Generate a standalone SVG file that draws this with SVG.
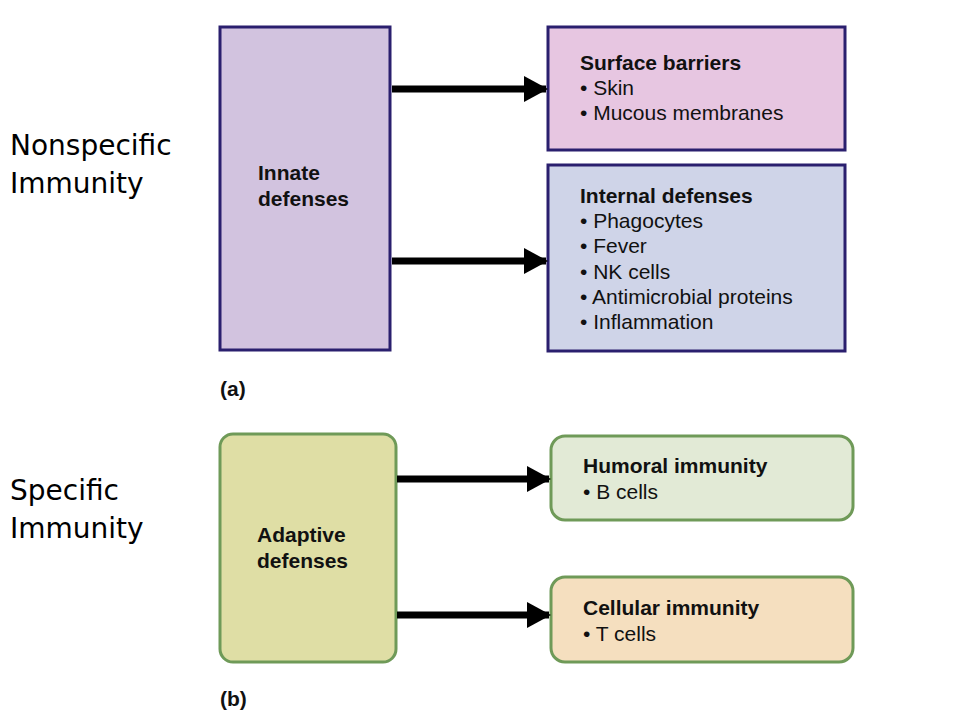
<svg xmlns="http://www.w3.org/2000/svg" width="960" height="720" viewBox="0 0 960 720">
<style>
.t{font-family:"Liberation Sans",Arial,sans-serif;font-size:21px;fill:#111}
.b{font-weight:bold}
.side{font-family:"DejaVu Sans",sans-serif;font-size:28px;fill:#000}
.pb{stroke:#2a1f6e;stroke-width:3}
.gb{stroke:#6f9a58;stroke-width:3}
.ar{stroke:#000;stroke-width:7;fill:none;marker-end:url(#ah)}
</style>
<defs><marker id="ah" markerUnits="userSpaceOnUse" markerWidth="24" markerHeight="26" refX="22" refY="13" orient="auto"><path d="M0,0L24,13L0,26z" fill="#000"/></marker></defs>
<rect width="960" height="720" fill="#fff"/>
<g id="labels">
<text class="side" x="10" y="155">Nonspecific</text>
<text class="side" x="10" y="193">Immunity</text>
<text class="side" x="10" y="500">Specific</text>
<text class="side" x="10" y="538">Immunity</text>
<text class="t b" x="220" y="396">(a)</text>
<text class="t b" x="220" y="706">(b)</text>
</g>
<g id="innate"><rect class="pb" x="220" y="27" width="170" height="323" fill="#d2c3df"/>
<text class="t b" x="258" y="180">Innate</text><text class="t b" x="258" y="206">defenses</text></g>
<g id="surface"><rect class="pb" x="548" y="27" width="297" height="123" fill="#e7c6e1"/>
<text class="t b" x="580" y="70">Surface barriers</text><text class="t" x="580" y="95">• Skin</text><text class="t" x="580" y="120">• Mucous membranes</text></g>
<g id="internal"><rect class="pb" x="548" y="165" width="297" height="186" fill="#cfd4e8"/>
<text class="t b" x="580" y="203">Internal defenses</text><text class="t" x="580" y="228">• Phagocytes</text><text class="t" x="580" y="253">• Fever</text><text class="t" x="580" y="279">• NK cells</text><text class="t" x="580" y="304">• Antimicrobial proteins</text><text class="t" x="580" y="329">• Inflammation</text></g>
<g id="adaptive"><rect class="gb" x="220" y="434" width="176" height="228" rx="13" fill="#dfdea5"/>
<text class="t b" x="257" y="542">Adaptive</text><text class="t b" x="257" y="568">defenses</text></g>
<g id="humoral"><rect class="gb" x="551" y="436" width="302" height="84" rx="14" fill="#e2ead6"/>
<text class="t b" x="583" y="473">Humoral immunity</text><text class="t" x="583" y="499">• B cells</text></g>
<g id="cellular"><rect class="gb" x="551" y="577" width="302" height="85" rx="14" fill="#f5dfbf"/>
<text class="t b" x="583" y="615">Cellular immunity</text><text class="t" x="583" y="641">• T cells</text></g>
<g id="connectors">
<path class="ar" d="M392,89H546"/>
<path class="ar" d="M392,261H546"/>
<path class="ar" d="M397,479H549"/>
<path class="ar" d="M397,615H549"/>
</g>
</svg>
